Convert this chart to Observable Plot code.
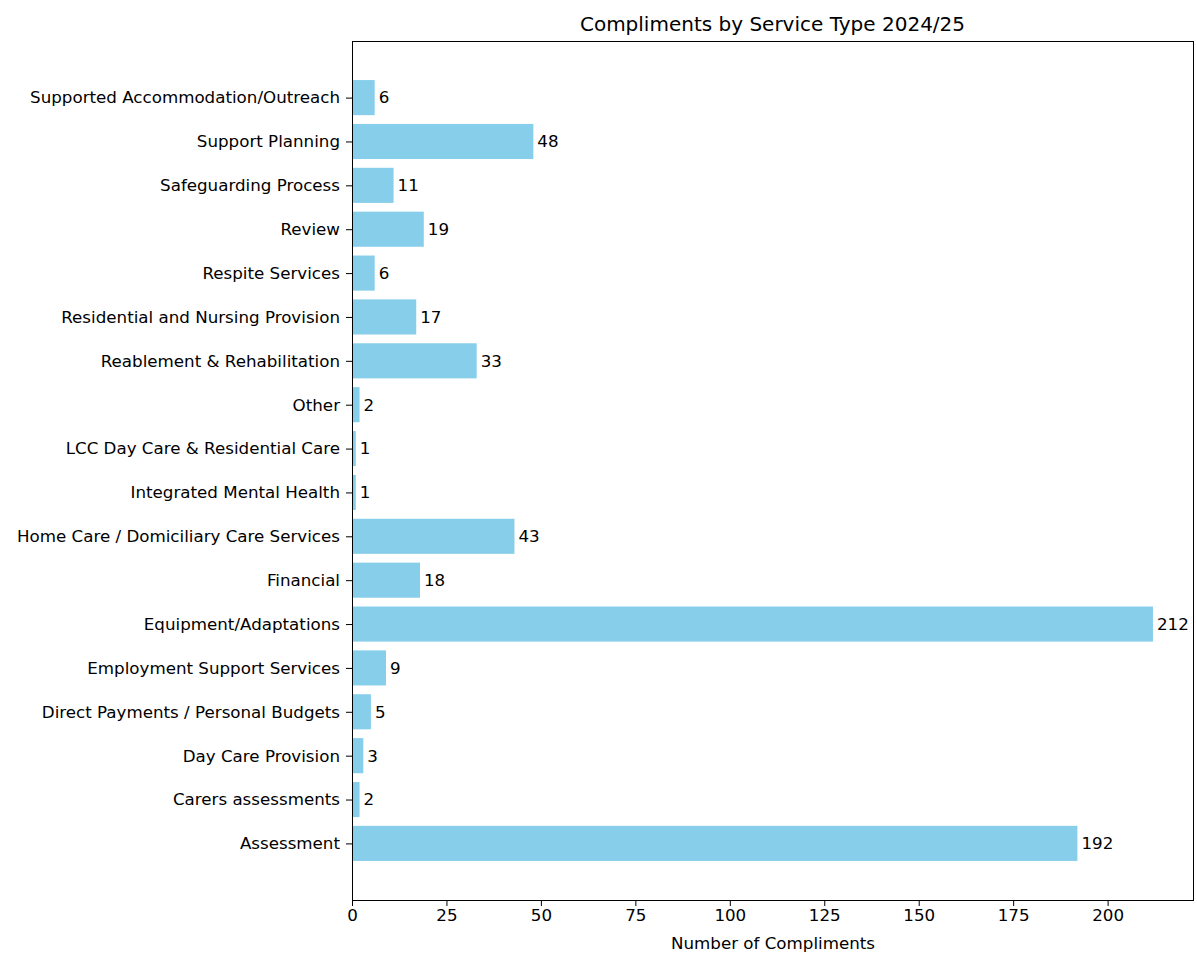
<!DOCTYPE html>
<html>
<head>
<meta charset="utf-8">
<script src="https://cdn.jsdelivr.net/npm/d3@7"></script>
<script src="https://cdn.jsdelivr.net/npm/@observablehq/plot@0.6"></script>
<style>
  html, body { margin: 0; padding: 0; background: #fff; }
  #wrap { position: relative; width: 1197px; height: 954px; }
  #title { position: absolute; z-index: 2; top: 12px; left: 352px; width: 841px; text-align: center;
           font-family: "DejaVu Sans", sans-serif; font-size: 20px; line-height: 24px; color: #000; }
  #chart { position: absolute; z-index: 1; top: 0; left: 0; }
</style>
</head>
<body>
<div id="wrap">
  <div id="chart"></div>
  <div id="title">Compliments by Service Type 2024/25</div>
</div>
<script>
const categories = [
  "Assessment",
  "Carers assessments",
  "Day Care Provision",
  "Direct Payments / Personal Budgets",
  "Employment Support Services",
  "Equipment/Adaptations",
  "Financial",
  "Home Care / Domiciliary Care Services",
  "Integrated Mental Health",
  "LCC Day Care & Residential Care",
  "Other",
  "Reablement & Rehabilitation",
  "Residential and Nursing Provision",
  "Respite Services",
  "Review",
  "Safeguarding Process",
  "Support Planning",
  "Supported Accommodation/Outreach"
];
const counts = [192, 2, 3, 5, 9, 212, 18, 43, 1, 1, 2, 33, 17, 6, 19, 11, 48, 6];
const xTicks = [0, 25, 50, 75, 100, 125, 150, 175, 200];

const data = categories.map((c, i) => ({service: c, count: counts[i]}));

const FS = 16.7;

const chart = Plot.plot({
  width: 1197,
  height: 954,
  marginLeft: 352,
  marginRight: 4,
  marginTop: 41,
  marginBottom: 54,
  style: {fontFamily: "DejaVu Sans, sans-serif", fontSize: FS + "px", color: "#000", background: "#fff"},
  x: {domain: [0, 222.6]},
  y: {domain: categories.slice().reverse(), paddingInner: 0.2, paddingOuter: 0.89, round: false},
  marks: [
    Plot.barX(data, {x: "count", y: "service", fill: "#87CEEB"}),
    Plot.text(data, {x: "count", y: "service", text: d => String(d.count), textAnchor: "start", dx: 3.5, fill: "#000", fontSize: FS}),
    Plot.frame({stroke: "#000", strokeWidth: 1}),
    Plot.axisX({ticks: xTicks, tickFormat: d => String(d), tickSize: 6, tickPadding: 3, stroke: "#000", fill: "#000", fontSize: FS,
                label: "Number of Compliments", labelAnchor: "center", labelArrow: "none", labelOffset: 48}),
    Plot.axisY({tickSize: 6, tickPadding: 6.5, stroke: "#000", fill: "#000", fontSize: FS, label: null})
  ]
});
document.getElementById("chart").appendChild(chart);
</script>
</body>
</html>
